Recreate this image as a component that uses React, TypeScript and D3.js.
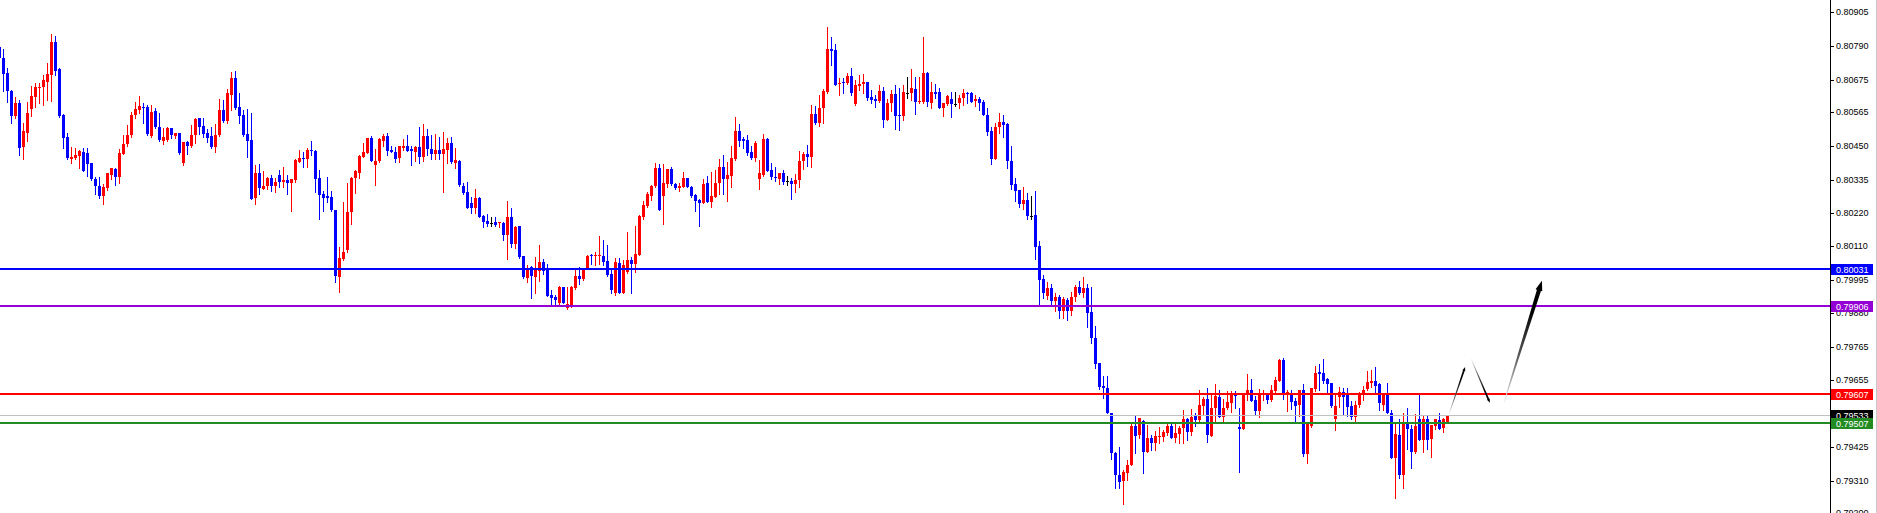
import React from 'react';
import * as d3 from 'd3';

// Prices are in points (1 point = 0.00001)
const open = [
80786,80749,80698,80637,80552,80596,80446,80494,80575,80616,
80647,80650,80667,80691,80803,80711,80555,80480,80405,80409,
80416,80429,80426,80392,80337,80314,80280,80307,80351,80371,
80344,80422,80456,80487,80555,80572,80582,80582,80484,80569,
80514,80467,80470,80511,80484,80494,80392,80463,80450,80487,
80545,80518,80494,80484,80446,80487,80572,80535,80623,80681,
80582,80555,80490,80470,80273,80358,80303,80314,80341,80314,
80351,80327,80334,80324,80334,80395,80409,80405,80436,80433,
80341,80286,80280,80276,80232,80004,80065,80096,80225,80341,
80358,80412,80426,80477,80385,80399,80467,80484,80436,80429,
80409,80443,80450,80439,80429,80446,80412,80484,80439,80422,
80436,80422,80436,80460,80392,80399,80314,80293,80256,80239,
80273,80212,80195,80188,80191,80188,80188,80147,80208,80116,
80178,80075,80001,80038,80004,80024,80055,80028,79943,79936,
79916,79970,79899,79906,79967,80008,79997,80035,80079,80075,
80075,80075,80058,80014,79949,80052,79949,80021,80062,80048,
80079,80208,80246,80280,80314,80375,80280,80320,80371,80320,
80307,80310,80341,80310,80283,80266,80256,80324,80259,80276,
80324,80378,80337,80348,80405,80501,80473,80470,80429,80409,
80337,80351,80473,80368,80344,80337,80358,80331,80331,80320,
80334,80399,80422,80412,80558,80528,80579,80633,80779,80776,
80660,80667,80664,80688,80592,80654,80660,80667,80616,80609,
80603,80637,80538,80596,80626,80555,80552,80630,80630,80643,
80599,80599,80698,80596,80633,80633,80579,80592,80609,80592,
80596,80613,80630,80630,80603,80609,80599,80555,80501,80405,
80514,80531,80524,80399,80320,80300,80252,80266,80212,80215,
80110,79997,79940,79967,79923,79936,79889,79926,79889,79936,
79970,79950,79967,79885,79797,79711,79633,79626,79542,79406,
79331,79311,79338,79365,79498,79467,79515,79409,79457,79440,
79460,79460,79474,79498,79457,79470,79491,79521,79477,79532,
79518,79566,79590,79464,79559,79596,79528,79559,79576,79606,
79494,79487,79606,79620,79586,79549,79603,79603,79586,79617,
79651,79722,79606,79603,79583,79569,79620,79403,79498,79623,
79681,79678,79657,79644,79521,79596,79613,79603,79566,79528,
79569,79610,79623,79644,79651,79640,79569,79603,79542,79389,
79467,79331,79508,79487,79409,79521,79450,79521,79453,79498,
79518,79491,79511
];

const high = [
80793,80779,80715,80640,80616,80606,80528,80599,80654,80664,
80664,80691,80732,80830,80824,80715,80558,80494,80446,80443,
80436,80443,80443,80392,80344,80344,80320,80358,80375,80375,
80439,80487,80521,80565,80599,80620,80596,80589,80589,80579,
80562,80511,80514,80511,80494,80494,80463,80467,80521,80545,
80545,80545,80507,80514,80524,80609,80606,80643,80701,80705,
80630,80572,80575,80562,80385,80388,80365,80344,80351,80341,
80368,80378,80351,80337,80405,80436,80429,80443,80467,80436,
80368,80297,80344,80297,80232,80106,80259,80324,80344,80368,
80419,80460,80477,80484,80439,80477,80490,80494,80450,80446,
80450,80473,80487,80450,80450,80514,80524,80507,80487,80490,
80480,80497,80477,80480,80443,80402,80324,80327,80276,80303,
80276,80215,80218,80208,80208,80191,80191,80263,80239,80178,
80178,80075,80045,80041,80072,80113,80065,80048,79960,79943,
79973,79970,79970,79973,80028,80038,80031,80079,80082,80089,
80143,80130,80113,80031,80069,80069,80062,80158,80072,80178,
80215,80263,80293,80317,80392,80388,80388,80371,80378,80324,
80324,80361,80341,80314,80286,80269,80337,80348,80361,80368,
80405,80419,80395,80450,80548,80524,80480,80487,80450,80467,
80402,80490,80477,80392,80378,80358,80368,80348,80341,80354,
80433,80429,80453,80589,80586,80623,80643,80854,80820,80796,
80681,80681,80698,80715,80674,80691,80694,80667,80640,80623,
80657,80650,80609,80640,80657,80647,80657,80684,80711,80684,
80684,80820,80701,80667,80660,80647,80596,80623,80633,80633,
80623,80643,80633,80633,80623,80616,80606,80579,80514,80528,
80562,80555,80528,80450,80341,80300,80310,80290,80280,80297,
80126,80011,79987,79980,79950,79943,79936,79933,79953,79977,
79990,80004,79980,79970,79838,79711,79667,79667,79542,79409,
79426,79348,79382,79511,79535,79525,79518,79501,79467,79481,
79494,79484,79504,79508,79511,79498,79552,79525,79555,79542,
79620,79596,79627,79610,79640,79620,79590,79617,79617,79617,
79559,79610,79674,79657,79600,79623,79620,79606,79637,79664,
79725,79729,79620,79620,79593,79620,79640,79508,79627,79702,
79708,79725,79661,79644,79603,79630,79627,79627,79583,79583,
79613,79634,79684,79688,79698,79644,79610,79644,79552,79508,
79521,79542,79559,79501,79538,79606,79535,79535,79501,79521,
79542,79525,79535
];

const low = [
80742,80637,80599,80528,80545,80419,80405,80467,80552,80582,
80596,80589,80606,80603,80691,80548,80443,80405,80392,80405,
80375,80365,80348,80334,80286,80273,80252,80300,80337,80317,
80324,80422,80450,80480,80545,80562,80528,80487,80480,80511,
80467,80456,80467,80477,80477,80422,80385,80422,80446,80460,
80490,80480,80463,80443,80429,80484,80531,80528,80572,80575,
80528,80484,80412,80269,80252,80286,80303,80303,80297,80293,
80310,80310,80286,80229,80327,80395,80378,80378,80419,80293,
80201,80229,80259,80229,79987,79953,80062,80089,80184,80290,
80341,80412,80426,80399,80317,80395,80450,80419,80429,80395,
80395,80436,80433,80385,80399,80392,80399,80419,80405,80405,
80405,80293,80392,80392,80375,80314,80286,80239,80222,80222,
80208,80174,80178,80178,80178,80174,80130,80065,80106,80103,
80069,80001,79987,79933,79949,79990,80014,79940,79909,79909,
79912,79916,79895,79902,79963,79980,79994,80035,80048,80045,
80048,80045,80008,79949,79943,79949,79949,80018,79949,80021,
80079,80201,80242,80266,80310,80232,80184,80310,80317,80303,
80297,80310,80310,80276,80229,80178,80256,80259,80242,80276,
80286,80286,80263,80310,80402,80450,80443,80419,80405,80399,
80303,80348,80365,80337,80331,80320,80320,80317,80269,80293,
80310,80371,80382,80378,80524,80518,80528,80630,80725,80657,
80623,80630,80660,80623,80589,80640,80630,80606,80596,80582,
80599,80514,80538,80569,80507,80504,80538,80613,80606,80558,
80596,80596,80586,80579,80613,80579,80552,80589,80548,80586,
80579,80589,80596,80599,80586,80572,80555,80487,80388,80405,
80494,80480,80375,80303,80263,80242,80235,80201,80201,80065,
79912,79933,79929,79909,79889,79865,79865,79858,79875,79923,
79946,79936,79834,79780,79694,79623,79593,79542,79386,79287,
79287,79232,79314,79365,79406,79457,79338,79409,79416,79416,
79440,79447,79467,79457,79443,79440,79440,79450,79467,79498,
79511,79535,79443,79464,79508,79528,79511,79555,79545,79559,
79341,79487,79586,79583,79538,79528,79586,79576,79583,79613,
79651,79590,79549,79555,79511,79532,79396,79372,79494,79617,
79620,79644,79610,79562,79484,79562,79538,79532,79521,79511,
79562,79586,79620,79630,79613,79552,79552,79542,79389,79253,
79321,79287,79419,79355,79406,79450,79409,79419,79392,79487,
79487,79477,79511
];

const close = [
80749,80694,80637,80552,80596,80443,80501,80562,80620,80650,
80650,80674,80694,80803,80705,80552,80477,80409,80412,80419,
80433,80365,80388,80337,80314,80280,80310,80358,80375,80344,
80426,80456,80487,80555,80575,80586,80579,80490,80565,80514,
80470,80480,80511,80487,80494,80426,80463,80450,80487,80541,
80514,80490,80477,80446,80487,80572,80535,80630,80681,80579,
80552,80487,80467,80269,80358,80307,80314,80341,80314,80327,
80327,80334,80324,80337,80402,80409,80405,80436,80433,80337,
80283,80273,80273,80232,80008,80069,80089,80225,80341,80365,
80416,80429,80477,80399,80399,80473,80484,80433,80429,80405,
80450,80450,80433,80433,80446,80412,80484,80439,80422,80436,
80422,80439,80460,80395,80402,80317,80290,80239,80239,80273,
80208,80191,80184,80188,80181,80191,80147,80208,80116,80174,
80072,80004,80031,80008,80028,80055,80024,79940,79933,79926,
79970,79916,79912,79970,80008,79997,80028,80075,80075,80079,
80079,80055,80011,79960,80055,79949,80045,80062,80048,80082,
80212,80249,80286,80314,80375,80232,80324,80371,80320,80307,
80314,80341,80310,80280,80263,80256,80320,80259,80280,80324,
80378,80337,80351,80409,80501,80467,80467,80426,80409,80460,
80358,80473,80365,80344,80341,80358,80327,80331,80320,80334,
80399,80422,80412,80558,80528,80579,80637,80779,80773,80657,
80664,80664,80688,80630,80657,80660,80667,80613,80606,80603,
80637,80538,80596,80626,80552,80552,80633,80630,80647,80599,
80603,80698,80599,80633,80626,80579,80596,80620,80592,80592,
80613,80630,80626,80599,80609,80596,80555,80497,80405,80514,
80531,80521,80399,80317,80297,80252,80266,80212,80212,80106,
79994,79950,79967,79923,79936,79889,79929,79889,79936,79970,
79950,79967,79882,79797,79708,79630,79626,79542,79406,79331,
79307,79341,79365,79498,79464,79525,79409,79457,79440,79464,
79464,79477,79498,79457,79474,79491,79521,79477,79528,79518,
79569,79590,79467,79559,79600,79528,79559,79579,79606,79600,
79487,79606,79620,79583,79549,79606,79606,79586,79620,79654,
79722,79610,79613,79579,79566,79620,79403,79508,79627,79678,
79674,79651,79640,79566,79566,79613,79596,79562,79528,79569,
79610,79620,79647,79651,79634,79576,79603,79542,79389,79470,
79331,79508,79487,79409,79498,79450,79521,79450,79501,79521,
79487,79521,79535
];

const tickValues = [80905, 80790, 80675, 80565, 80450, 80335, 80220, 80110, 79995, 79880, 79765, 79655, 79425, 79310, 79200];

const levelValues = [80031, 79906, 79607, 79533, 79507];
const levelColors = ['#0000ff', '#9400d3', '#ff0000', '#c0c0c0', '#228b22'];
const levelLabelBg = ['#0000ff', '#9400d3', '#ff0000', '#000000', '#228b22'];
const levelWidths = [2, 2, 2, 1, 2];

// annotation arrows: [barIndexFrom, priceFrom, barIndexTo, priceTo]
const arrowsData = [
  [362.4, 79538, 366.4, 79698],
  [367.9, 79725, 372.6, 79576],
  [376.1, 79576, 385.6, 79991],
];
const arrowStyle = [
  { w0: 0.6, w1: 1.8, hw: 3, hl: 4 },
  { w0: 0.6, w1: 1.8, hw: 3, hl: 4 },
  { w0: 0.8, w1: 4.2, hw: 7, hl: 10 },
];

const W = 1877;
const H = 513;
const AXIS_X = 1830;
const FONT = "'Liberation Sans', Arial, sans-serif";

export default function App() {
  const n = close.length;
  const x = d3.scaleLinear().domain([0, 362]).range([-0.5, 1447.5]);
  const y = d3.scaleLinear().domain([79310, 80905]).range([481, 12]);

  const candles = d3.range(n).map((i) => {
    const o = open[i], c = close[i], hi = high[i], lo = low[i];
    const color = c > o ? '#ff0000' : c < o ? '#0000ff' : '#000000';
    const cx = x(i);
    const bTop = Math.round(y(Math.max(o, c)));
    const bBot = Math.round(y(Math.min(o, c)));
    const wTop = Math.round(y(hi));
    const wBot = Math.round(y(lo));
    return (
      <g key={i} fill={color}>
        <rect x={cx - 0.5} y={wTop} width={1} height={Math.max(1, wBot - wTop + 1)} />
        <rect x={cx - 1.5} y={bTop} width={3} height={Math.max(1, bBot - bTop)} />
      </g>
    );
  });

  const arrows = arrowsData.map((a, i) => {
    const s = arrowStyle[i];
    const x0 = x(a[0]), y0 = y(a[1]), x1 = x(a[2]), y1 = y(a[3]);
    const len = Math.hypot(x1 - x0, y1 - y0);
    const dx = (x1 - x0) / len, dy = (y1 - y0) / len;
    const nx = -dy, ny = dx;
    const bx = x1 - dx * s.hl, by = y1 - dy * s.hl;
    const pts = [
      [x0 + nx * s.w0 / 2, y0 + ny * s.w0 / 2],
      [bx + nx * s.w1 / 2, by + ny * s.w1 / 2],
      [bx + nx * s.hw / 2, by + ny * s.hw / 2],
      [x1, y1],
      [bx - nx * s.hw / 2, by - ny * s.hw / 2],
      [bx - nx * s.w1 / 2, by - ny * s.w1 / 2],
      [x0 - nx * s.w0 / 2, y0 - ny * s.w0 / 2],
    ];
    const id = `arrGrad${i}`;
    return (
      <g key={i}>
        <defs>
          <linearGradient id={id} gradientUnits="userSpaceOnUse" x1={x0} y1={y0} x2={x1} y2={y1}>
            <stop offset="0" stopColor="#f2f2f2" />
            <stop offset="0.4" stopColor="#555555" />
            <stop offset="0.75" stopColor="#000000" />
            <stop offset="1" stopColor="#000000" />
          </linearGradient>
        </defs>
        <polygon points={pts.map((p) => p.join(',')).join(' ')} fill={`url(#${id})`} />
      </g>
    );
  });

  return (
    <svg
      width={W}
      height={H}
      style={{ position: 'absolute', left: 0, top: 0, background: '#ffffff', display: 'block' }}
      fontFamily={FONT}
    >
      <rect x={0} y={0} width={W} height={H} fill="#ffffff" />
      <g shapeRendering="crispEdges">{candles}</g>
      <g shapeRendering="crispEdges">
        {levelValues.map((v, i) => {
          const yy = Math.round(y(v));
          const w = levelWidths[i];
          return (
            <rect key={i} x={0} y={w === 2 ? yy - 1 : yy} width={AXIS_X} height={w} fill={levelColors[i]} />
          );
        })}
      </g>
      {arrows}
      {/* right price axis */}
      <g shapeRendering="crispEdges">
        <rect x={AXIS_X} y={0} width={1} height={H} fill="#000000" />
        <rect x={W - 1} y={0} width={1} height={H} fill="#c8c8c8" />
        {tickValues.map((v, i) => {
          const yy = Math.round(y(v));
          return <rect key={i} x={AXIS_X + 1} y={yy} width={3} height={1} fill="#000000" />;
        })}
      </g>
      <g fontSize={9}>
        {tickValues.map((v, i) => (
          <text key={i} x={1836} y={y(v)} dominantBaseline="central" fill="#000000">
            {(v / 100000).toFixed(5)}
          </text>
        ))}
      </g>
      <g fontSize={9}>
        {levelValues.map((v, i) => {
          const yy = Math.round(y(v));
          return (
            <g key={i}>
              <rect x={AXIS_X + 1} y={yy - 5} width={42} height={11} fill={levelLabelBg[i]} shapeRendering="crispEdges" />
              <text x={1836} y={yy + 0.5} dominantBaseline="central" fill="#ffffff">
                {(v / 100000).toFixed(5)}
              </text>
            </g>
          );
        })}
      </g>
    </svg>
  );
}
